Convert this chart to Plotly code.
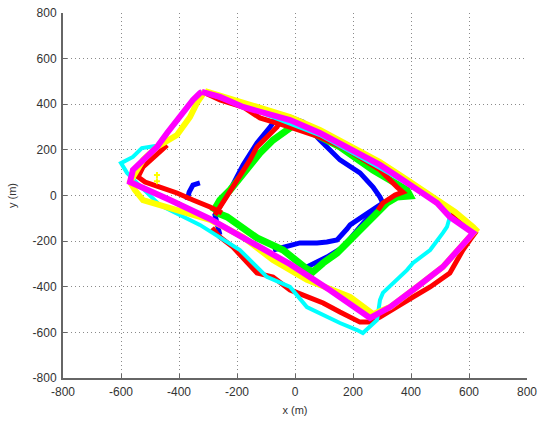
import plotly.graph_objects as go

# ---- data (metres) ----
magenta_x = [-321, -259, -179, -121, -86, -17, 86, 200, 293, 372, 431, 490, 534, 614,
             593, 510, 421, 328, 259,
             121, -17, -155, -293, -431, -569,
             -559, -524, -476, -441, -407, -380, -352, -328, -321]
magenta_y = [454, 432, 388, 366, 353, 331, 274, 199, 134, 68, 15, -33, -94, -164,
             -195, -313, -401, -489, -537,
             -415, -301, -200, -103, -20, 59,
             112, 156, 213, 274, 331, 375, 419, 449, 454]

yellow_x = [-310, -121, -17, 86, 200, 293, 372, 431, 490, 552, 614, 624,
            593, 510, 421, 328, 270,
            190, 41, -76, -179, -293, -407, -524,
            -552, -569, -524, -476, -407, -362, -338, -310]
yellow_y = [458, 384, 344, 287, 213, 147, 81, 29, -20, -72, -138, -151,
            -195, -313, -401, -489, -520,
            -445, -370, -283, -182, -107, -64, -20,
            24, 59, 156, 213, 265, 344, 406, 458]
yellow_extra_x = [-476, -476]
yellow_extra_y = [90, 62]

cyan_x = [-317, -121, 86, 293, 455, 528, 534,
          524, 510, 466, 407, 386, 303, 293, 283, 234,
          214, 155, 41, -17, -97, -190, -328, -466, -545, -579, -600,
          -559, -528, -476, -441, -407, -380, -352, -328, -317]
cyan_y = [454, 366, 265, 121, 2, -64, -94,
          -138, -164, -239, -296, -327, -427, -458, -546, -603,
          -590, -559, -489, -401, -357, -239, -129, -42, 55, 99, 142,
          169, 208, 218, 274, 331, 375, 419, 449, 454]

red_x = [-441, -466, -500, -524, -541, -517, -466, -407, -352, -293, -252, None,
         -276, -231, -190, -155, -131, -97, -62, -48, 17, 155, 293, 352, 372, 345, 303, 286, None,
         -310, -259, -179, -121, -17, 86, 200, 293, 372, 455, 534, 597, 621,
         603, 579, 534, 466, 407, 352, 293, 259,
         224, 155, 97, -17, -76, -131, -179, -214, -259, -286]
red_y = [221, 191, 156, 125, 81, 59, 37, 11, -20, -50, -77, None,
         -85, 2, 90, 156, 213, 256, 300, 331, 305, 221, 112, 37, 15, 2, -33, -64, None,
         449, 419, 388, 340, 300, 256, 191, 125, 68, 2, -77, -142, -164,
         -195, -239, -340, -401, -445, -489, -533, -555,
         -555, -511, -471, -414, -357, -340, -270, -226, -182, -142]

green_x = [-283, -259, -224, -190, -155, -121, -76, -17, 7,
           41, 155, 269, 328, 386, 397,
           352, 317, 283, 234, 190, 145, 97, 62,
           41, -41, -131, -190, -234, -276]
green_y = [-72, -20, 24, 77, 121, 186, 243, 300, 318,
           287, 213, 112, 68, 24, -2,
           -7, -33, -77, -138, -195, -252, -296, -335,
           -322, -239, -186, -138, -94, -72]

blue_x = [-372, -365, -352, -328, None,
          -259, -276, -252, -224, -179, -131, -86, -69, -17, 28, 86, 155, 224, 269, 293, 303,
          283, 234, 190, 179, 145, 110, 76, 17, -41, -76, None,
          17, 41, 110, 166, 224, 276]
blue_y = [-20, 15, 46, 55, None,
          -173, -85, -33, 24, 134, 230, 300, 331, 344, 322, 243, 156, 99, 37, -7, -33,
          -50, -94, -129, -147, -195, -204, -208, -208, -226, -239, None,
          -324, -313, -270, -226, -138, -64]

tick_vals = [-800, -600, -400, -200, 0, 200, 400, 600, 800]
tick_text = ["-800", "-600", "-400", "-200", "0", "200", "400", "600", "800"]

fig = go.Figure()

def add(xs, ys, color, width):
    fig.add_trace(go.Scatter(x=xs, y=ys, mode="lines", connectgaps=False,
                             line=dict(color=color, width=width),
                             hoverinfo="skip", showlegend=False))

add(blue_x, blue_y, "#0000ff", 5)
add(green_x, green_y, "#00ff00", 7)
add(red_x, red_y, "#ff0000", 5)
add(cyan_x, cyan_y, "#00ffff", 4)
add(yellow_x, yellow_y, "#ffff00", 6)
fig.add_trace(go.Scatter(x=yellow_extra_x, y=yellow_extra_y, mode="markers",
                         marker=dict(color="#ffff00", size=5, symbol="cross"),
                         hoverinfo="skip", showlegend=False))
add(magenta_x, magenta_y, "#ff00ff", 6)

font_family = "Liberation Sans, Arial, sans-serif"
axis_common = dict(
    range=[-800, 800], tickmode="array", tickvals=tick_vals, ticktext=tick_text,
    showgrid=True, gridcolor="#8a8a8a", griddash="1px,3px", gridwidth=1,
    zeroline=False, showline=True, linecolor="#666666", linewidth=2,
    ticks="inside", ticklen=4, tickcolor="#666666", automargin=False,
    tickfont=dict(family=font_family, size=12, color="#333333"),
)

fig.update_layout(
    width=539, height=421,
    margin=dict(l=63, r=12, t=13, b=43),
    paper_bgcolor="white", plot_bgcolor="white",
    xaxis=dict(**axis_common, ticklabelstandoff=2,
               title=dict(text="x (m)", standoff=8,
                          font=dict(family=font_family, size=11, color="#333333"))),
    yaxis=dict(**axis_common, ticklabelstandoff=2,
               title=dict(text="y (m)", standoff=14,
                          font=dict(family=font_family, size=11, color="#333333"))),
)

fig.write_html("out.html")
